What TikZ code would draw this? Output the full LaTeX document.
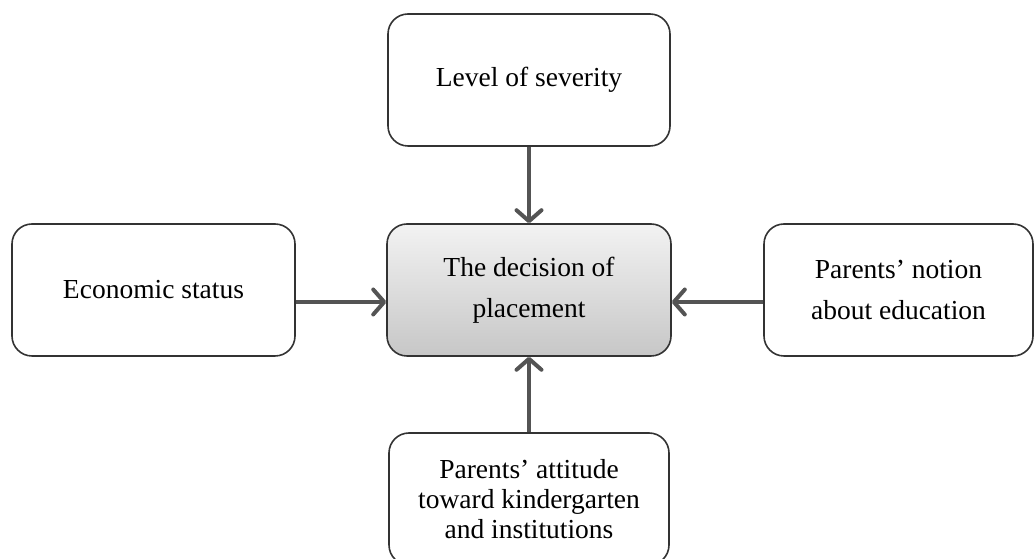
\documentclass[tikz,border=0pt]{standalone}
\usepackage{fontspec}
\setmainfont{Liberation Serif}
\usetikzlibrary{arrows.meta}
\tikzset{
  factor/.style={draw=black!80, line width=1.6pt, rounded corners=20pt, fill=white,
    minimum height=132pt, align=center, font=\fontsize{27.5}{30}\selectfont},
  wide/.style={font=\fontsize{27.5}{41}\selectfont},
  decision/.style={factor, top color=black!5, bottom color=black!22},
  influence/.style={draw=black!67, line width=4pt, -{Straight Barb[length=11pt,width=25pt,round]}}
}
\begin{document}
\begin{tikzpicture}[x=1pt,y=1pt]
\useasboundingbox (0,0) rectangle (1034,559);
\node[decision, wide, minimum width=284pt] (place) at (529,269) {The decision of\\placement};
\node[factor, minimum width=282pt] (severity) at (529,479) {Level of severity};
\node[factor, minimum width=283pt] (econ) at (153.5,269) {Economic status};
\node[factor, wide, minimum width=269pt] (notion) at (898.5,269) {Parents' notion\\about education};
\node[factor, minimum width=280pt] (attitude) at (529,60) {Parents' attitude\\toward kindergarten\\and institutions};
\draw[influence] (severity.south) -- (place.north);
\draw[influence] (attitude.north) -- (place.south);
\draw[influence] ([yshift=-12pt]econ.east) -- ([yshift=-12pt]place.west);
\draw[influence] ([yshift=-12pt]notion.west) -- ([yshift=-12pt]place.east);
\end{tikzpicture}
\end{document}
